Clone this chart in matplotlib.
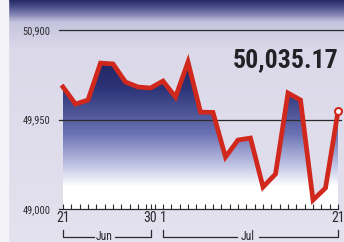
import numpy as np
import matplotlib.pyplot as plt
from matplotlib.colors import LinearSegmentedColormap

# trading days 21 Jun .. 21 Jul
days = list(range(23))
closes = [50295, 50114, 50157, 50549, 50540, 50348, 50295, 50284, 50358, 50188,
          50560, 50029, 50025, 49552, 49732, 49753, 49233, 49371, 50231, 50157,
          49095, 49223, 50035.17]
y_ticks = [49000, 49950, 50900]
y_labels = ['49,000', '49,950', '50,900']
x_ticks = [0, 7, 8, 22]
x_labels = ['21', '30', '1', '21']
months = ['Jun', 'Jul']
last_label = '50,035.17'

narrow = ['Roboto Condensed', 'Liberation Sans Narrow', 'Liberation Sans', 'DejaVu Sans']
ink = '#2a2a2e'

fig = plt.figure(figsize=(3.44, 2.42), dpi=100)

# paper background with dark band on top
bg = fig.add_axes([0, 0, 1, 1], zorder=0)
grad = np.linspace(0, 1, 242).reshape(-1, 1)
bg_cmap = LinearSegmentedColormap.from_list(
    'bg', [(0, '#262a66'), (0.025, '#4a4f8c'), (0.09, '#c6c4de'), (0.2, '#dbd8e9'), (1, '#e4e2ee')])
bg.imshow(grad, aspect='auto', cmap=bg_cmap, extent=[0, 344, 242, 0])
bg.axvspan(0, 8, color='#f4f3f7')
bg.set_xlim(0, 344)
bg.set_ylim(242, 0)
bg.axis('off')

ax = fig.add_axes([63 / 344, 1 - 209 / 242, 275 / 344, 179 / 242], zorder=2)
ax.set_facecolor('none')
ax.set_xlim(0, 22)
ax.set_ylim(49000, 50900)

# gradient fill under the line
poly = ax.fill_between(days, closes, 49000, color='none', lw=0)
fill_cmap = LinearSegmentedColormap.from_list(
    'fill', [(0, '#1f2462'), (0.2, '#2d3477'), (0.5, '#6a72b4'), (0.72, '#c4c7e6'), (0.85, '#ffffff'), (1, '#ffffff')])
img = ax.imshow(np.linspace(0, 1, 200).reshape(-1, 1), aspect='auto', cmap=fill_cmap,
                extent=[0, 22, 49000, 50600], zorder=1)
img.set_clip_path(poly.get_paths()[0], transform=ax.transData)
ax.set_ylim(49000, 50900)

# grid lines
ax.axhline(50900, xmin=-0.015, xmax=1.03, color=ink, lw=0.9, clip_on=False, zorder=2)
ax.axhline(49950, xmin=-0.015, xmax=1.01, color=ink, lw=0.9, clip_on=False, zorder=2)

ax.plot(days, closes, color='#d0281c', lw=3.4, solid_joinstyle='miter', zorder=3, clip_on=False)
ax.plot(days[-1], closes[-1], 'o', ms=5, mfc='white', mec='#d0281c', mew=1.5, zorder=4, clip_on=False)

ax.text(22.05, 50580, last_label, ha='right', va='center', fontsize=18.5, fontweight='bold',
        color='#222226', family=narrow)

for s in ['top', 'right', 'left']:
    ax.spines[s].set_visible(False)
ax.spines['bottom'].set_color(ink)
ax.spines['bottom'].set_linewidth(0.9)
ax.spines['bottom'].set_bounds(-0.3, 22)

ax.set_yticks(y_ticks)
ax.set_yticklabels(y_labels, family=narrow, fontsize=7.5, color=ink)
ax.tick_params(axis='y', length=0, pad=9)
ax.set_xticks(x_ticks)
ax.set_xticklabels(x_labels, family=narrow, fontsize=10, color=ink)
ax.set_xticks(np.linspace(0, 22, 34), minor=True)
ax.tick_params(axis='x', which='both', direction='in', length=3.5, width=0.8, color=ink, pad=1.5)

# month brackets
tr = ax.get_xaxis_transform()
yb, yt = -0.158, -0.115
for (a, b, c), m in zip([(0, 7, 3.3), (8, 22, 14.8)], months):
    ax.plot([a, a, c - 0.85], [yt, yb, yb], color=ink, lw=0.9, transform=tr, clip_on=False)
    ax.plot([c + 0.85, b, b], [yb, yb, yt], color=ink, lw=0.9, transform=tr, clip_on=False)
    ax.text(c, yb + 0.005, m, transform=tr, ha='center', va='center', fontsize=8.5, color=ink, family=narrow)

fig.savefig('out.png', dpi=100)
